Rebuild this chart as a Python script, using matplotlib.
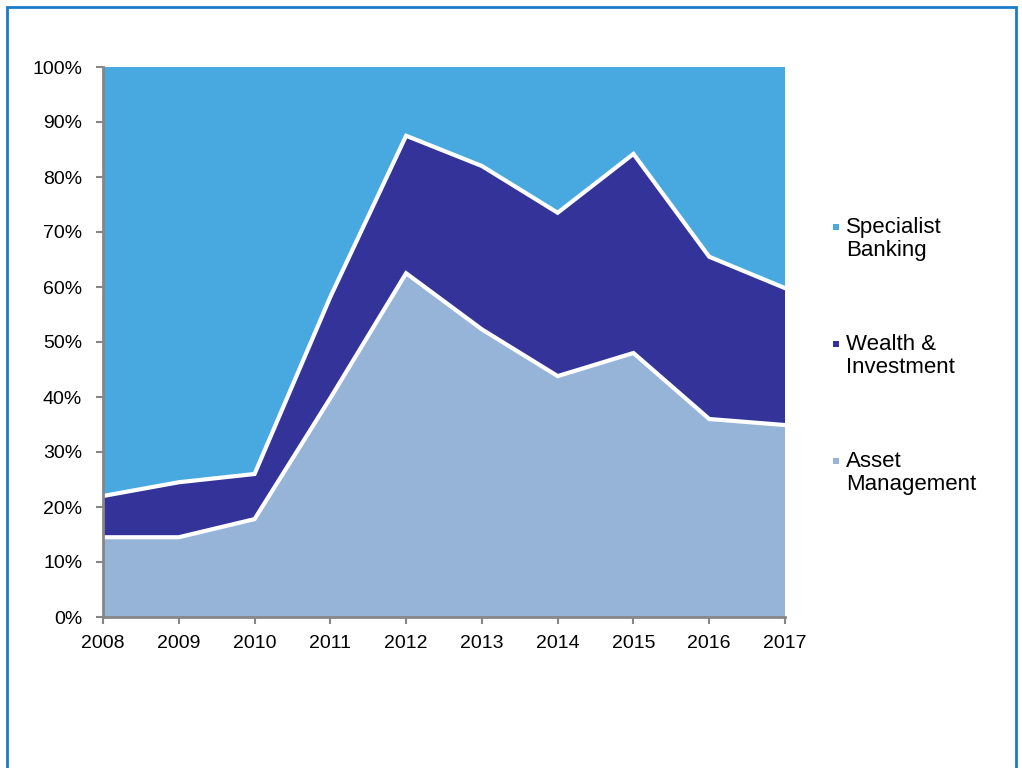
import matplotlib.pyplot as plt
import numpy as np
from matplotlib.patches import Rectangle
from matplotlib.ticker import PercentFormatter

plt.rcParams['font.family'] = ['Liberation Sans', 'DejaVu Sans']

years = [2008, 2009, 2010, 2011, 2012, 2013, 2014, 2015, 2016, 2017]
asset_mgmt = np.array([14.5, 14.5, 17.8, 39.8, 62.5, 52.3, 43.8, 48.0, 36.0, 34.9])
wealth_inv = np.array([7.5, 10.0, 8.2, 18.4, 25.0, 29.7, 29.7, 36.2, 29.5, 24.9])
specialist = 100 - asset_mgmt - wealth_inv

labels = ['Specialist\nBanking', 'Wealth &\nInvestment', 'Asset\nManagement']
colors = ['#47A9DF', '#343399', '#96B3D8']

fig = plt.figure(figsize=(10.22, 7.68), dpi=100)
ax = fig.add_axes([103 / 1022, 1 - 617 / 768, (785 - 103) / 1022, (617 - 67) / 768])

ax.stackplot(years, asset_mgmt, wealth_inv, specialist,
             colors=[colors[2], colors[1], colors[0]], linewidth=0)

# white edges on top of the lower two bands
ax.plot(years, asset_mgmt, color='white', linewidth=3, solid_joinstyle='miter')
ax.plot(years, asset_mgmt + wealth_inv, color='white', linewidth=3, solid_joinstyle='miter')

ax.set_xlim(2008, 2017)
ax.set_ylim(0, 100)
ax.set_xticks(years)
ax.set_yticks(np.arange(0, 101, 10))
ax.yaxis.set_major_formatter(PercentFormatter(decimals=0))
ax.tick_params(labelsize=14, direction='out', length=5, width=1.5, color='#868686')
ax.tick_params(axis='y', pad=10)
ax.tick_params(axis='x', pad=8)

for side in ['top', 'right']:
    ax.spines[side].set_visible(False)
for side in ['left', 'bottom']:
    ax.spines[side].set_color('#868686')
    ax.spines[side].set_linewidth(2)

# legend drawn by hand so marker lines up with first text line
leg_y = [227, 344, 461]
for lab, col, y in zip(labels, colors, leg_y):
    fig.add_artist(Rectangle((833 / 1022, 1 - (y + 3) / 768), 6 / 1022, 6 / 768,
                             transform=fig.transFigure, color=col, linewidth=0))
    fig.text(846 / 1022, 1 - (y - 10) / 768, lab, fontsize=16, ha='left', va='top',
             linespacing=1.15)

# outer frame
fig.add_artist(Rectangle((7 / 1022, -0.05), (1016 - 7) / 1022, 1.05 - 7 / 768,
                         transform=fig.transFigure, fill=False,
                         edgecolor='#1A7ACC', linewidth=2))

fig.savefig('out.png', dpi=100)
